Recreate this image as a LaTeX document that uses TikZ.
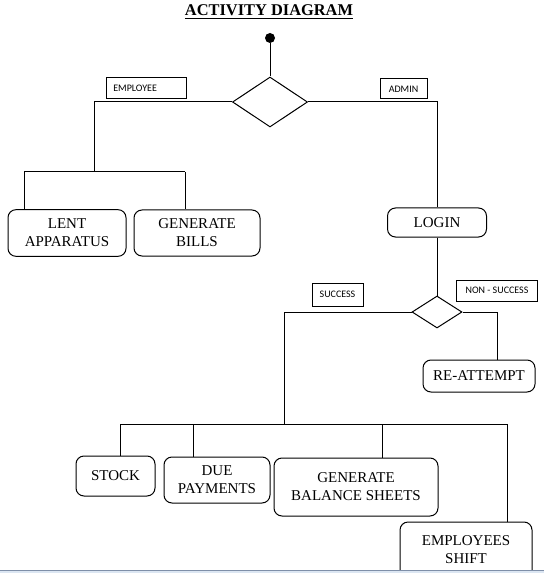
\documentclass[tikz,border=0pt]{standalone}
\usepackage{fontspec}
\setmainfont{Liberation Serif}
\newfontfamily\tagfont{Carlito}
\usetikzlibrary{shapes.geometric}
\definecolor{frameline}{HTML}{7F8FA8}
\definecolor{framefill}{HTML}{DCE6F2}
\begin{document}
\begin{tikzpicture}[x=0.75pt,y=-0.75pt,line width=0.75pt,
    act/.style={draw,rounded corners=6pt,align=center,inner sep=0pt,
      font=\fontsize{11.25}{13.5}\selectfont},
    tag/.style={draw,inner sep=0pt,font=\tagfont\fontsize{7.5}{9}\selectfont},
    dec/.style={draw,diamond,inner sep=0pt}]
  \useasboundingbox (0,0) rectangle (544,573);
  % Title
  \node (title) at (269,12) {\fontsize{12.3}{14}\selectfont\bfseries\underline{ACTIVITY DIAGRAM}};
  % Start and decisions
  \node[circle,fill,minimum size=7.5pt,inner sep=0pt] (start) at (270,38) {};
  \node[dec,minimum width=56.25pt,minimum height=37.5pt] (d1) at (270,102) {};
  \node[dec,minimum width=37.5pt,minimum height=24pt] (d2) at (437,312) {};
  % Labels
  \node[tag,minimum width=60pt,minimum height=15.75pt,text width=49pt,inner xsep=5.5pt,align=left] (employee) at (146,88.5) {EMPLOYEE};
  \node[tag,minimum width=35.25pt,minimum height=15pt] (admin) at (403.5,89) {ADMIN};
  \node[tag,minimum width=38.25pt,minimum height=17.25pt] (success) at (337.5,294.5) {SUCCESS};
  \node[tag,minimum width=60.75pt,minimum height=15.75pt] (nonsuccess) at (497,290.5) {NON - SUCCESS};
  % Activities
  \node[act,minimum width=88.5pt,minimum height=35pt] (lent) at (67,233) {LENT\\APPARATUS};
  \node[act,minimum width=94.5pt,minimum height=34.5pt] (bills) at (197,233) {GENERATE\\BILLS};
  \node[act,minimum width=74.25pt,minimum height=21.75pt] (login) at (437,222.5) {LOGIN};
  \node[act,minimum width=84pt,minimum height=24pt] (reatt) at (479,376) {RE-ATTEMPT};
  \node[act,minimum width=59.25pt,minimum height=30pt] (stock) at (115.5,476) {STOCK};
  \node[act,minimum width=79.5pt,minimum height=34.5pt] (due) at (217,480) {DUE\\PAYMENTS};
  \node[act,minimum width=123pt,minimum height=43.5pt] (gbs) at (356,487) {GENERATE\\BALANCE SHEETS};
  \node[act,minimum width=99pt,minimum height=42pt] (shift) at (466,550) {EMPLOYEES\\SHIFT};
  % Employee side
  \coordinate (eJ) at (94,172);
  \coordinate (eL) at (24,172);
  \coordinate (eR) at (185,172);
  \draw (start) -- (d1);
  \draw (d1.west) -| (eJ);
  \draw (eL) -- (eR);
  \draw (eL) -- (eL |- lent.north);
  \draw (eR) -- (eR |- bills.north);
  % Admin side
  \draw (d1.east) -| (login.north);
  \draw (login) -- (d2);
  \coordinate (nJ) at (497,312);
  \draw (d2.east) -- (nJ) -- (nJ |- reatt.north);
  \coordinate (sJ) at (284,424);
  \coordinate (sL) at (120,424);
  \coordinate (s2) at (193,424);
  \coordinate (s3) at (382,424);
  \coordinate (sR) at (507,424);
  \draw (d2.west) -| (sJ);
  \draw (sL) -- (sR);
  \draw (sL) -- (sL |- stock.north);
  \draw (s2) -- (s2 |- due.north);
  \draw (s3) -- (s3 |- gbs.north);
  \draw (sR) -- (sR |- shift.north);
  % Window edge
  \fill[framefill] (0,571) rectangle (544,573);
  \draw[frameline,line width=0.9pt] (0,570.5) -- (544,570.5);
\end{tikzpicture}
\end{document}
